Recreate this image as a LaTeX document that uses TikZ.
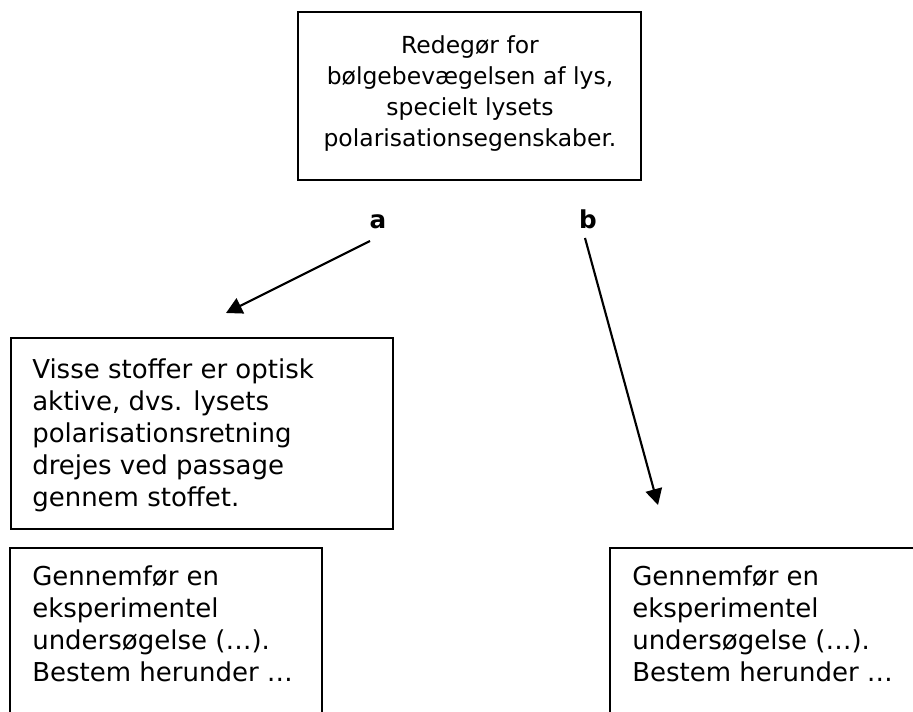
\documentclass[tikz,border=0pt]{standalone}
\usepackage{fontspec}
\setmainfont{DejaVu Sans}
\usetikzlibrary{arrows.meta}
\tikzset{
  frame/.style={line width=1.6pt},
  headtext/.style={font=\fontsize{17.6}{23.3}\selectfont, inner sep=0pt, align=center, anchor=north},
  bodytext/.style={font=\fontsize{19.5}{24}\selectfont, inner sep=0pt, align=left, anchor=north west},
  tag/.style={font=\fontsize{18.5}{22}\selectfont\bfseries, inner sep=0pt, anchor=base},
  pointer/.style={line width=1.6pt, -{Triangle[length=12pt,width=12.5pt]}}
}
\begin{document}
\begin{tikzpicture}[x=0.75pt,y=-0.75pt]
\useasboundingbox (0,0) rectangle (913,711);

% main task box
\draw[frame] (298,12) rectangle (641,180);
\node[headtext] (task) at (470,35) {Redegør for\\bølgebevægelsen af lys,\\specielt lysets\\polarisationsegenskaber.};

% branch labels and arrows
\node[tag] (la) at (378,228) {a};
\node[tag] (lb) at (588,228) {b};
\coordinate (atail) at (370,241);
\coordinate (ahead) at (226,313);
\coordinate (btail) at (585,238);
\coordinate (bhead) at (658,505);
\draw[pointer] (atail) -- (ahead);
\draw[pointer] (btail) -- (bhead);

% sub-question box for branch a
\draw[frame] (11,338) rectangle (393,529);
\node[bodytext] (optic) at (32,358) {Visse stoffer er optisk\\aktive, dvs. lysets\\polarisationsretning\\drejes ved passage\\gennem stoffet.};

% experiment boxes, open at the bottom
\draw[frame] (10,712) |- (322,548) -- (322,712);
\node[bodytext] (expa) at (32,565) {Gennemfør en\\eksperimentel\\undersøgelse (…).\\Bestem herunder …};

\draw[frame] (610,712) |- (914,548);
\node[bodytext] (expb) at (632,565) {Gennemfør en\\eksperimentel\\undersøgelse (…).\\Bestem herunder …};
\end{tikzpicture}
\end{document}
